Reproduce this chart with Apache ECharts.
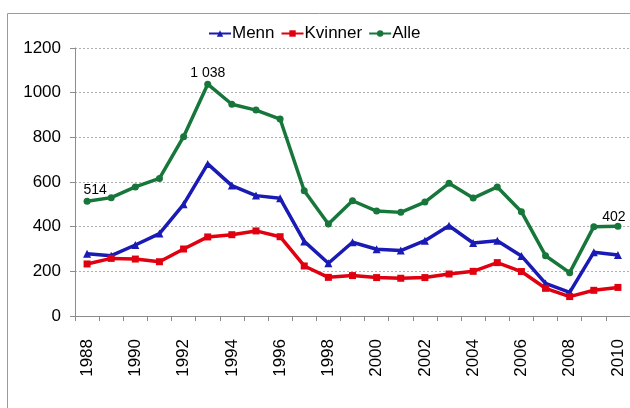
<!DOCTYPE html>
<html>
<head>
<meta charset="utf-8">
<script src="https://cdn.jsdelivr.net/npm/echarts@6/dist/echarts.min.js"></script>
<style>
  html, body { margin: 0; padding: 0; background: #fff; }
  #chart { width: 630px; height: 408px; }
</style>
</head>
<body>
<div id="chart"></div>
<script>
(function () {
    var years = ['1988','1989','1990','1991','1992','1993','1994','1995','1996','1997','1998','1999',
                 '2000','2001','2002','2003','2004','2005','2006','2007','2008','2009','2010'];
    var menn    = [279, 270, 318, 369, 500, 681, 584, 539, 527, 334, 236, 330, 299, 293, 337, 404, 327, 337, 269, 146, 106, 285, 273];
    var kvinner = [233, 258, 255, 243, 300, 354, 364, 381, 355, 224, 173, 181, 172, 169, 172, 188, 200, 239, 199, 124, 87, 115, 128];
    var alle    = [514, 530, 578, 616, 803, 1038, 948, 922, 882, 561, 412, 516, 470, 464, 510, 594, 528, 578, 467, 270, 194, 400, 402];
    var labelled = ['1988', '1993', '2010'];

    var font = 'Liberation Sans, Arial, sans-serif';

    function labelFmt(p) {
        if (labelled.indexOf(p.name) < 0) return '';
        return p.value >= 1000 ? String(p.value).replace(/^(\d)(\d{3})$/, '$1 $2') : String(p.value);
    }

    // nudge the first and last labels like in the original
    var alleData = alle.map(function (v, i) {
        if (i === 0) return { value: v, label: { offset: [8, 0] } };
        if (i === alle.length - 1) return { value: v, label: { offset: [-4, 2] } };
        return v;
    });

    var option = {
        animation: false,
        graphic: [{
            type: 'rect',
            shape: { x: 7.5, y: 13.5, width: 640, height: 420 },
            style: { fill: 'none', stroke: '#9a9a9a', lineWidth: 1 }
        }],
        legend: {
            top: 20,
            left: 203,
            itemGap: 6,
            itemWidth: 22,
            itemHeight: 8,
            textStyle: { fontFamily: font, fontSize: 17, color: '#000', padding: [0, 0, 0, -4] },
            data: ['Menn', 'Kvinner', 'Alle']
        },
        grid: { left: 75, right: 0, top: 48, bottom: 92, containLabel: false },
        xAxis: {
            type: 'category',
            data: years,
            boundaryGap: true,
            axisLine: { lineStyle: { color: '#8c8c8c' } },
            axisTick: { show: true, length: 5, interval: 0, lineStyle: { color: '#8c8c8c' } },
            axisLabel: {
                interval: 1,
                rotate: 90,
                margin: 23,
                fontFamily: font,
                fontSize: 17,
                color: '#000'
            }
        },
        yAxis: {
            type: 'value',
            min: 0,
            max: 1200,
            interval: 200,
            axisLine: { show: true, lineStyle: { color: '#8c8c8c' } },
            axisTick: { show: true, length: 5, lineStyle: { color: '#8c8c8c' } },
            axisLabel: {
                fontFamily: font, fontSize: 17, color: '#000', margin: 14,
                formatter: function (v) { return String(v); }
            },
            splitLine: { lineStyle: { color: '#b0b0b0', type: [2, 2], width: 1 } }
        },
        series: [
            {
                name: 'Menn',
                type: 'line',
                data: menn,
                symbol: 'triangle',
                symbolSize: 8,
                lineStyle: { color: '#1a1ab4', width: 3.5 },
                itemStyle: { color: '#1a1ab4' }
            },
            {
                name: 'Kvinner',
                type: 'line',
                data: kvinner,
                symbol: 'rect',
                symbolSize: 7,
                lineStyle: { color: '#e0000f', width: 3.5 },
                itemStyle: { color: '#e0000f' }
            },
            {
                name: 'Alle',
                type: 'line',
                data: alleData,
                symbol: 'circle',
                symbolSize: 7,
                lineStyle: { color: '#17773a', width: 3.5 },
                itemStyle: { color: '#17773a' },
                label: {
                    show: true,
                    position: 'top',
                    distance: 1,
                    fontFamily: font,
                    fontSize: 14,
                    color: '#000',
                    formatter: labelFmt
                }
            }
        ]
    };

    var myChart = echarts.init(document.getElementById('chart'));
    myChart.setOption(option);
})();
</script>
</body>
</html>
